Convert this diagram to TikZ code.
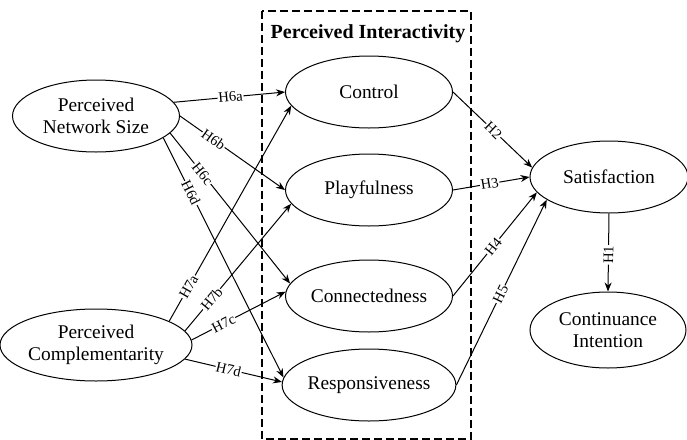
\documentclass[tikz,border=0pt]{standalone}
\usepackage{fontspec}
\setmainfont{Liberation Serif}
\usetikzlibrary{shapes.geometric,arrows.meta}
\begin{document}
\begin{tikzpicture}[x=0.5pt,y=-0.5pt,
  construct/.style={ellipse,draw,line width=0.5pt,inner sep=0pt,align=center,
    minimum width=83.5pt,minimum height=36pt,font=\fontsize{9.7}{11}\selectfont},
  path/.style={draw,line width=0.5pt,-{Stealth[length=4.5pt,width=3.5pt]}},
  hyp/.style={fill=white,inner sep=0.4pt,sloped,font=\fontsize{7.3}{8}\selectfont}]
\useasboundingbox (0,0) rectangle (687,440);
\draw[dashed,line width=0.6pt,dash pattern=on 4pt off 2pt] (262,11) rectangle (471,439);
\node[font=\bfseries\fontsize{10}{12}\selectfont] (title) at (368,34) {Perceived Interactivity};
\node[construct] (pns) at (96,116) {Perceived\\Network Size};
\node[construct] (pc) at (96,345) {Perceived\\Complementarity};
\node[construct] (ctrl) at (369,92) {Control};
\node[construct] (play) at (369,190) {Playfulness};
\node[construct] (conn) at (369,296) {Connectedness};
\node[construct] (resp) at (369,385) {Responsiveness};
\node[construct,minimum width=79pt] (sat) at (609,177) {Satisfaction};
\node[construct,minimum width=78pt,minimum height=38pt] (ci) at (608,330) {Continuance\\Intention};
\draw[path] (pns.10) -- node[hyp,pos=0.51] {H6a} (ctrl.west);
\draw[path] (pns.east) -- node[hyp,pos=0.32] {H6b} (play.west);
\draw[path] (pns.-13) -- node[hyp,pos=0.27] {H6c} (conn.171);
\draw[path] (pns.-18) -- node[hyp,pos=0.23] {H6d} (resp.175);
\draw[path] (pc.18) -- node[hyp,pos=0.16] {H7a} (ctrl.190);
\draw[path] (pc.9) -- node[hyp,pos=0.25] {H7b} (play.190);
\draw[path] (pc.3) -- node[hyp,pos=0.34] {H7c} (conn.177);
\draw[path] (pc.-9) -- node[hyp,pos=0.45] {H7d} (resp.178);
\draw[path] (ctrl.east) -- node[hyp,pos=0.51] {H2} (sat.173);
\draw[path] (play.east) -- node[hyp,pos=0.48] {H3} (sat.180);
\draw[path] (conn.east) -- node[hyp,pos=0.48] {H4} (sat.192);
\draw[path] (resp.east) -- node[hyp,pos=0.49] {H5} (sat.200);
\draw[path] (sat.south) -- node[hyp,pos=0.53] {H1} (ci.north);
\end{tikzpicture}
\end{document}
